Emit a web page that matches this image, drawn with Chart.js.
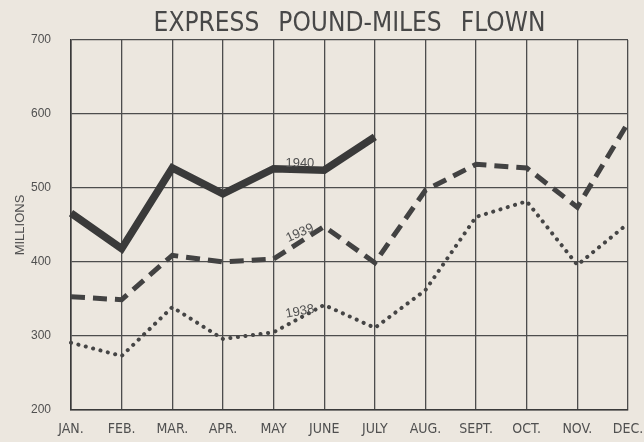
<!DOCTYPE html>
<html>
<head>
<meta charset="utf-8">
<script src="https://cdn.jsdelivr.net/npm/chart.js@4.4.1/dist/chart.umd.min.js"></script>
<style>
  html, body { margin: 0; padding: 0; background: #ece7df; }
  #wrap { width: 644px; height: 442px; position: relative; }
</style>
</head>
<body>
<div id="wrap"><canvas id="c" width="644" height="442"></canvas></div>
<script>
const months = ["JAN.", "FEB.", "MAR.", "APR.", "MAY", "JUNE", "JULY", "AUG.", "SEPT.", "OCT.", "NOV.", "DEC."];
const y1940 = [466, 418, 527, 492, 526, 524, 569, null, null, null, null, null];
const y1939 = [353, 349, 409, 400, 404, 448, 399, 497, 532, 527, 474, 588];
const y1938 = [291, 273, 339, 296, 305, 342, 311, 362, 461, 482, 396, 452];
const yTicks = [200, 300, 400, 500, 600, 700];
const seriesLabels = [
  { text: "1940", idx: 4.52, val: 533, rot: 0 },
  { text: "1939", idx: 4.52, val: 439, rot: -0.42 },
  { text: "1938", idx: 4.52, val: 333, rot: -0.18 }
];

const NARROW = "'Liberation Sans Narrow', 'DejaVu Sans Condensed', sans-serif";
const SANS = "'Liberation Sans', Arial, sans-serif";
const TXT = "#505050";

const labelPlugin = {
  id: "seriesLabels",
  afterDatasetsDraw(chart) {
    const ctx = chart.ctx;
    const xs = chart.scales.x, ys = chart.scales.y;
    ctx.save();
    ctx.fillStyle = TXT;
    ctx.font = "13px " + SANS;
    ctx.textAlign = "center";
    ctx.textBaseline = "middle";
    for (const l of seriesLabels) {
      const i = Math.floor(l.idx);
      const x0 = xs.getPixelForValue(i);
      const x1 = xs.getPixelForValue(i + 1);
      const x = x0 + (x1 - x0) * (l.idx - i);
      const y = ys.getPixelForValue(l.val);
      ctx.save();
      ctx.translate(x, y);
      ctx.rotate(l.rot);
      ctx.fillText(l.text, 0, 0);
      ctx.restore();
    }
    ctx.restore();
  }
};

new Chart(document.getElementById("c"), {
  type: "line",
  data: {
    labels: months,
    datasets: [
      { label: "1940", data: y1940, borderColor: "#3a3a3a", borderWidth: 7.5, pointRadius: 0, tension: 0, spanGaps: false },
      { label: "1939", data: y1939, borderColor: "#424242", borderWidth: 5, borderDash: [14, 8], pointRadius: 0, tension: 0 },
      { label: "1938", data: y1938, borderColor: "#454545", borderWidth: 4, borderDash: [0.1, 7.5], borderCapStyle: "round", pointRadius: 0, tension: 0 }
    ]
  },
  options: {
    responsive: false,
    animation: false,
    layout: { padding: { left: 0, right: 16, top: 0, bottom: 0 } },
    plugins: {
      legend: { display: false },
      tooltip: { enabled: false },
      title: {
        display: true,
        fullSize: false,
        text: "EXPRESS \u2002POUND-MILES \u2002FLOWN",
        color: "#484848",
        font: { family: NARROW, size: 26, weight: "normal", lineHeight: 1.1 },
        padding: { top: 10, bottom: 1.4 }
      }
    },
    scales: {
      x: {
        offset: false,
        grid: { color: "#4d4d4d", lineWidth: 1.3, drawTicks: false },
        border: { color: "#3a3a3a", width: 1.6 },
        ticks: { color: TXT, font: { family: NARROW, size: 14 }, padding: 11, maxRotation: 0, autoSkip: false },
        afterFit(s) { s.height = 32; s.paddingLeft = 0; s.paddingRight = 0; }
      },
      y: {
        min: 200, max: 700,
        afterBuildTicks(s) { s.ticks = yTicks.map(v => ({ value: v })); },
        grid: { color: "#4d4d4d", lineWidth: 1.3, drawTicks: false },
        border: { color: "#3a3a3a", width: 1.6 },
        ticks: { color: TXT, font: { family: SANS, size: 12 }, padding: 20 },
        title: { display: true, text: "MILLIONS", color: TXT, font: { family: SANS, size: 13 }, padding: { top: 13, bottom: 0 } },
        afterFit(s) { s.width = 71; }
      }
    }
  },
  plugins: [labelPlugin]
});
</script>
</body>
</html>
